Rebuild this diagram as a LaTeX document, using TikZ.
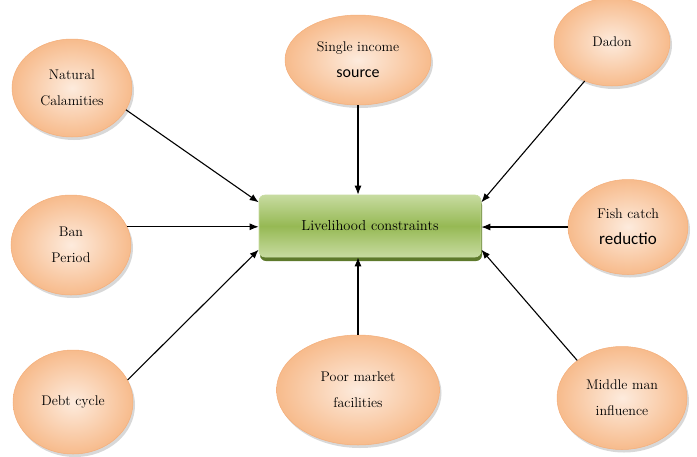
\documentclass[tikz,border=0pt]{standalone}
\usepackage{fontspec}
\newfontfamily\calibri{Carlito}
\usetikzlibrary{arrows.meta,shapes.geometric,shadows}

\definecolor{peach}{HTML}{F7BB8C}
\definecolor{peachlight}{HTML}{FDEBDD}
\definecolor{peachline}{HTML}{F4AE7A}
\definecolor{leaf}{HTML}{96B954}
\definecolor{leaflight}{HTML}{C7DBA0}
\definecolor{leafdark}{HTML}{5E7A2C}

\begin{document}
\begin{tikzpicture}[
        x=1pt, y=-1pt,
        factor/.style={ellipse, draw=peachline, line width=0.5pt, align=center,
            inner color=peachlight, outer color=peach,
            font=\fontsize{14}{26}\selectfont,
            drop shadow={shadow xshift=2pt, shadow yshift=-3pt, fill=black!30}},
        nucleo/.style={draw=leaflight, line width=0.6pt, rounded corners=6pt, align=center,
            minimum width=222pt, minimum height=62pt,
            top color=leaflight, bottom color=leaflight, middle color=leaf,
            font=\fontsize{14.5}{16}\selectfont,
            drop shadow={shadow xshift=1pt, shadow yshift=-4pt, fill=leafdark, opacity=1}},
        flecha/.style={-{Latex[length=9pt,width=7pt]}, line width=1.1pt}
    ]
        \useasboundingbox (0,0) rectangle (697,456);

        \node[nucleo] (core) at (370,226) {Livelihood constraints};

        \node[factor, minimum width=120pt, minimum height=98pt] (natural) at (72,88) {Natural\\Calamities};
        \node[factor, minimum width=120pt, minimum height=100pt] (ban) at (71,245) {Ban\\Period};
        \node[factor, minimum width=120pt, minimum height=104pt] (debt) at (73,402) {Debt cycle};

        \node[factor, minimum width=146pt, minimum height=90pt] (single) at (358,60) {Single income\\{\calibri\fontsize{16}{26}\selectfont source}};
        \node[factor, minimum width=163pt, minimum height=110pt] (poor) at (358,390) {Poor market\\facilities};

        \node[factor, minimum width=116pt, minimum height=88pt] (dadon) at (612,42) {Dadon};
        \node[factor, minimum width=120pt, minimum height=95pt] (fish) at (628,227) {Fish catch\\{\calibri\fontsize{17}{26}\selectfont reductio}};
        \node[factor, minimum width=130pt, minimum height=103pt] (middle) at (622,398) {Middle man\\influence};

        % flechas hacia el cuadro central
        \draw[flecha] (natural.-22) -- (core.168);
        \draw[flecha] (ban.18) -- (ban.18 -| core.west);
        \draw[flecha] (debt.22) -- (core.192);
        \draw[flecha] (single.south) -- (single.south |- core.north);
        \draw[flecha] (poor.north) -- (poor.north |- core.south);
        \draw[flecha] (dadon.-125) -- (core.12);
        \draw[flecha] (fish.west) -- (fish.west -| core.east);
        \draw[flecha] (middle.140) -- (core.348);
\end{tikzpicture}
\end{document}
